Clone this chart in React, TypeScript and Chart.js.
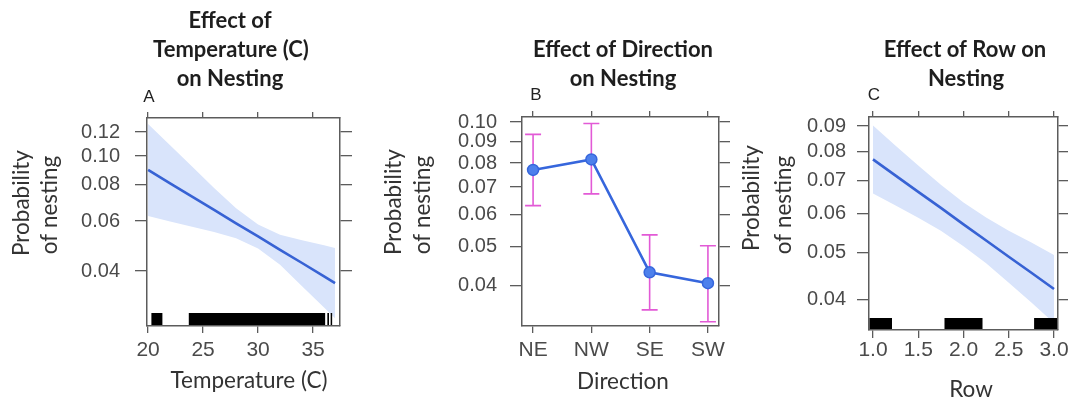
import React, { useEffect, useRef } from 'react';
import { Chart, registerables, LinearScale } from 'chart.js';

Chart.register(...registerables);

// ---------------- Data ----------------
// Panel A: effect of temperature
const tempX = [20, 22, 24, 26, 28, 30, 32, 34, 36, 37];
const tempFit = [0.0898, 0.0809, 0.0728, 0.0656, 0.0589, 0.053, 0.0475, 0.0427, 0.0383, 0.0362];
const tempUpper = [0.1275, 0.1085, 0.0922, 0.078, 0.0664, 0.0583, 0.0537, 0.0514, 0.0493, 0.0482];
const tempLower = [0.0624, 0.0598, 0.0573, 0.0549, 0.0522, 0.0481, 0.0421, 0.0353, 0.0296, 0.0271];
const tempRug = [[20.3, 21.3], [23.7, 36.1], [36.3, 36.45], [36.6, 36.7]];
const tempTicks = [20, 25, 30, 35];
const probTicksA = [0.04, 0.06, 0.08, 0.1, 0.12];

// Panel B: effect of direction
const directions = ['NE', 'NW', 'SE', 'SW'];
const dirFit = [0.077, 0.0816, 0.0432, 0.0406];
const dirUpper = [0.0936, 0.0993, 0.0535, 0.0503];
const dirLower = [0.0631, 0.0674, 0.0348, 0.0325];
const dirTicks = [1, 2, 3, 4];
const probTicksB = [0.04, 0.05, 0.06, 0.07, 0.08, 0.09, 0.1];

// Panel C: effect of row
const rowX = [1.0, 1.25, 1.5, 1.75, 2.0, 2.25, 2.5, 2.75, 3.0];
const rowFit = [0.0773, 0.0717, 0.0665, 0.0617, 0.0571, 0.0529, 0.049, 0.0454, 0.042];
const rowUpper = [0.0903, 0.0823, 0.0751, 0.0687, 0.0633, 0.059, 0.0554, 0.0524, 0.0494];
const rowLower = [0.066, 0.0624, 0.0589, 0.0554, 0.0515, 0.0475, 0.0433, 0.0394, 0.0357];
const rowRug = [[0.96, 1.21], [1.79, 2.21], [2.78, 3.04]];
const rowTicks = [1.0, 1.5, 2.0, 2.5, 3.0];
const probTicksC = [0.04, 0.05, 0.06, 0.07, 0.08, 0.09];

// ---------------- Logit scale ----------------
const logit = (p: number) => Math.log(p / (1 - p));

class LogitScale extends LinearScale {
  static id = 'logit';
  static defaults = {};
  determineDataLimits() {
    const o: any = this.options;
    (this as any).min = logit(o.min);
    (this as any).max = logit(o.max);
  }
  buildTicks() {
    const o: any = this.options;
    const vals: number[] = [];
    for (let i = 0; i < o.tickValues.length; i++) vals.push(Number(o.tickValues[i]));
    return vals.map((v) => ({ value: v })) as any;
  }
  getPixelForValue(value: any) {
    if (value === null || value === undefined || isNaN(value)) return NaN;
    const s: any = this;
    return s.getPixelForDecimal((logit(value) - s.min) / (s.max - s.min));
  }
  getValueForPixel(pixel: number) {
    const s: any = this;
    const l = s.min + s.getDecimalForPixel(pixel) * (s.max - s.min);
    return 1 / (1 + Math.exp(-l));
  }
}
Chart.register(LogitScale as any);

// ---------------- Styling helpers ----------------
const AXIS = '#5c5c5c';
const TICK_TEXT = '#4a4a4a';
const W = 1070;
const H = 406;
const TITLE_FONT = 'bold 22px Lato';
const LABEL_FONT = '22.5px Lato';
const LETTER_FONT = '17px "Liberation Sans"';

type TextItem = { text: string; x: number; y: number; font: string; color: string; rotate?: boolean; baseline?: any };

const textPlugin = (items: TextItem[]) => ({
  id: 'texts',
  afterDraw(chart: any) {
    const ctx = chart.ctx;
    items.forEach((t) => {
      ctx.save();
      ctx.font = t.font;
      ctx.fillStyle = t.color;
      ctx.textAlign = 'center';
      ctx.textBaseline = t.baseline || 'alphabetic';
      ctx.translate(t.x, t.y);
      if (t.rotate) ctx.rotate(-Math.PI / 2);
      ctx.fillText(t.text, 0, 0);
      ctx.restore();
    });
  },
});

const rugPlugin = (intervals: number[][], height: number) => ({
  id: 'rug',
  afterDatasetsDraw(chart: any) {
    const { ctx, chartArea } = chart;
    const xs = chart.scales.x;
    ctx.save();
    ctx.beginPath();
    ctx.rect(chartArea.left, chartArea.top, chartArea.right - chartArea.left, chartArea.bottom - chartArea.top);
    ctx.clip();
    ctx.fillStyle = '#000';
    intervals.forEach(([a, b]) => {
      const x0 = xs.getPixelForValue(a);
      const x1 = xs.getPixelForValue(b);
      ctx.fillRect(x0, chartArea.bottom - height, Math.max(x1 - x0, 1.5), height);
    });
    ctx.restore();
  },
});

const errorBarPlugin = (lower: number[], upper: number[]) => ({
  id: 'errbars',
  beforeDatasetsDraw(chart: any) {
    const { ctx } = chart;
    const xs = chart.scales.x;
    const ys = chart.scales.y;
    ctx.save();
    ctx.strokeStyle = '#e25ad6';
    ctx.lineWidth = 1.6;
    lower.forEach((lo, i) => {
      const x = xs.getPixelForValue(dirTicks[i]);
      const y1 = ys.getPixelForValue(lo);
      const y2 = ys.getPixelForValue(upper[i]);
      ctx.beginPath();
      ctx.moveTo(x, y1);
      ctx.lineTo(x, y2);
      ctx.moveTo(x - 8, y1);
      ctx.lineTo(x + 8, y1);
      ctx.moveTo(x - 8, y2);
      ctx.lineTo(x + 8, y2);
      ctx.stroke();
    });
    ctx.restore();
  },
});

type Panel = {
  box: { left: number; right: number; top: number; bottom: number };
  xMin: number; xMax: number; yMin: number; yMax: number;
  xTicks: number[]; yTicks: number[];
  xLabel: (v: number) => string;
  xPad: number; bottomTick: number; rightTick: number; rightW: number; yPad: number;
  datasets: any[];
  plugins: any[];
};

function gridOpts(len: number) {
  return { display: true, drawOnChartArea: false, drawTicks: true, tickLength: len, color: AXIS, tickColor: AXIS, lineWidth: 1.3 };
}
const borderOpts = { display: true, color: AXIS, width: 1.5, z: 1 };

function buildConfig(p: Panel): any {
  const setTicks = (s: any) => { s.ticks = p.xTicks.map((v) => ({ value: v })); };
  const yAxisW = 100;
  return {
    type: 'line',
    data: { datasets: p.datasets },
    options: {
      responsive: false,
      animation: false,
      devicePixelRatio: 1,
      events: [],
      layout: { padding: { left: p.box.left - yAxisW, right: W - p.box.right - p.rightW, top: 0, bottom: 0 } },
      plugins: { legend: { display: false }, tooltip: { enabled: false }, title: { display: false } },
      scales: {
        x: {
          type: 'linear', position: 'bottom', min: p.xMin, max: p.xMax,
          afterBuildTicks: setTicks,
          ticks: { callback: (v: any) => p.xLabel(Number(v)), font: { family: 'Liberation Sans', size: 21 }, color: TICK_TEXT, padding: p.xPad, maxRotation: 0, autoSkip: false },
          grid: gridOpts(p.bottomTick), border: borderOpts,
          afterFit: (s: any) => { s.height = H - p.box.bottom; },
        },
        xTop: {
          type: 'linear', position: 'top', min: p.xMin, max: p.xMax,
          afterBuildTicks: setTicks,
          ticks: { display: false },
          grid: gridOpts(6), border: borderOpts,
          afterFit: (s: any) => { s.height = p.box.top; },
        },
        y: {
          type: 'logit', position: 'left', min: p.yMin, max: p.yMax, tickValues: p.yTicks,
          ticks: { callback: (v: any) => Number(v).toFixed(2), font: { family: 'Liberation Sans', size: 20 }, color: TICK_TEXT, padding: p.yPad, autoSkip: false },
          grid: gridOpts(12), border: borderOpts,
          afterFit: (s: any) => { s.width = yAxisW; },
        },
        y2: {
          type: 'logit', position: 'right', min: p.yMin, max: p.yMax, tickValues: p.yTicks,
          ticks: { display: false },
          grid: gridOpts(p.rightTick), border: borderOpts,
          afterFit: (s: any) => { s.width = p.rightW; },
        },
      },
    },
    plugins: p.plugins,
  };
}

const LINE_BLUE = '#3762d4';
const BAND = '#d9e4fb';

function bandDatasets(xs: number[], fit: number[], up: number[], lo: number[]) {
  return [
    { data: xs.map((x, i) => ({ x, y: fit[i] })), borderColor: LINE_BLUE, borderWidth: 2.6, pointRadius: 0, fill: false, tension: 0 },
    { data: xs.map((x, i) => ({ x, y: up[i] })), borderColor: 'rgba(0,0,0,0)', borderWidth: 0, pointRadius: 0, fill: false, tension: 0 },
    { data: xs.map((x, i) => ({ x, y: lo[i] })), borderColor: 'rgba(0,0,0,0)', borderWidth: 0, pointRadius: 0, fill: '-1', backgroundColor: BAND, tension: 0 },
  ];
}

const panelA: Panel = {
  box: { left: 147, right: 340, top: 118, bottom: 326 },
  xMin: 19.9, xMax: 37.45, yMin: 0.0254, yMax: 0.1332,
  xTicks: tempTicks, yTicks: probTicksA,
  xLabel: (v) => String(v),
  xPad: 5, bottomTick: 7, rightTick: 12, rightW: 14, yPad: 15,
  datasets: bandDatasets(tempX, tempFit, tempUpper, tempLower),
  plugins: [
    rugPlugin(tempRug, 13),
    textPlugin([
      { text: 'Effect of', x: 230, y: 28, font: TITLE_FONT, color: '#1e1e1e' },
      { text: 'Temperature (C)', x: 231, y: 57, font: TITLE_FONT, color: '#1e1e1e' },
      { text: 'on Nesting', x: 230, y: 86, font: TITLE_FONT, color: '#1e1e1e' },
      { text: 'A', x: 149, y: 102, font: LETTER_FONT, color: '#222' },
      { text: 'Probability', x: 22, y: 203, font: LABEL_FONT, color: '#333', rotate: true, baseline: 'middle' },
      { text: 'of nesting', x: 50, y: 205, font: LABEL_FONT, color: '#333', rotate: true, baseline: 'middle' },
      { text: 'Temperature (C)', x: 249, y: 381, font: LABEL_FONT, color: '#333', baseline: 'middle' },
    ]),
  ],
};

const panelB: Panel = {
  box: { left: 522, right: 719, top: 117, bottom: 326 },
  xMin: 0.81, xMax: 4.19, yMin: 0.0317, yMax: 0.1028,
  xTicks: dirTicks, yTicks: probTicksB,
  xLabel: (v) => directions[Math.round(v) - 1] || '',
  xPad: 5, bottomTick: 7, rightTick: 11, rightW: 14, yPad: 13,
  datasets: [
    {
      data: dirTicks.map((x, i) => ({ x, y: dirFit[i] })),
      borderColor: '#3666dc', borderWidth: 2.6, tension: 0, fill: false,
      pointRadius: 5.5, pointBackgroundColor: '#4d80ec', pointBorderColor: '#3666dc', pointBorderWidth: 1.5,
    },
  ],
  plugins: [
    errorBarPlugin(dirLower, dirUpper),
    textPlugin([
      { text: 'Effect of Direction', x: 623, y: 57, font: TITLE_FONT, color: '#1e1e1e' },
      { text: 'on Nesting', x: 623, y: 86, font: TITLE_FONT, color: '#1e1e1e' },
      { text: 'B', x: 536, y: 100, font: LETTER_FONT, color: '#222' },
      { text: 'Probability', x: 394, y: 202, font: LABEL_FONT, color: '#333', rotate: true, baseline: 'middle' },
      { text: 'of nesting', x: 423, y: 205, font: LABEL_FONT, color: '#333', rotate: true, baseline: 'middle' },
      { text: 'Direction', x: 623, y: 382, font: LABEL_FONT, color: '#333', baseline: 'middle' },
    ]),
  ],
};

const panelC: Panel = {
  box: { left: 869, right: 1058, top: 117, bottom: 330 },
  xMin: 0.956, xMax: 3.044, yMin: 0.0345, yMax: 0.0938,
  xTicks: rowTicks, yTicks: probTicksC,
  xLabel: (v) => v.toFixed(1),
  xPad: 0, bottomTick: 8, rightTick: 10, rightW: 12, yPad: 11,
  datasets: bandDatasets(rowX, rowFit, rowUpper, rowLower),
  plugins: [
    rugPlugin(rowRug, 12),
    textPlugin([
      { text: 'Effect of Row on', x: 965, y: 57, font: TITLE_FONT, color: '#1e1e1e' },
      { text: 'Nesting', x: 966, y: 86, font: TITLE_FONT, color: '#1e1e1e' },
      { text: 'C', x: 874, y: 100, font: LETTER_FONT, color: '#222' },
      { text: 'Probability', x: 752, y: 198, font: LABEL_FONT, color: '#333', rotate: true, baseline: 'middle' },
      { text: 'of nesting', x: 784, y: 205, font: LABEL_FONT, color: '#333', rotate: true, baseline: 'middle' },
      { text: 'Row', x: 971, y: 390, font: LABEL_FONT, color: '#333', baseline: 'middle' },
    ]),
  ],
};

const panels = [panelA, panelB, panelC];

export default function App() {
  const r0 = useRef<HTMLCanvasElement>(null);
  const r1 = useRef<HTMLCanvasElement>(null);
  const r2 = useRef<HTMLCanvasElement>(null);
  useEffect(() => {
    const refs = [r0, r1, r2];
    const charts = panels.map((p, i) => new Chart(refs[i].current as HTMLCanvasElement, buildConfig(p)));
    return () => charts.forEach((c) => c.destroy());
  }, []);
  const cs: React.CSSProperties = { position: 'absolute', left: 0, top: 0, width: W, height: H };
  return (
    <div style={{ position: 'absolute', left: 0, top: 0, width: W, height: H, background: '#ffffff' }}>
      <canvas ref={r0} width={W} height={H} style={cs} />
      <canvas ref={r1} width={W} height={H} style={cs} />
      <canvas ref={r2} width={W} height={H} style={cs} />
    </div>
  );
}
